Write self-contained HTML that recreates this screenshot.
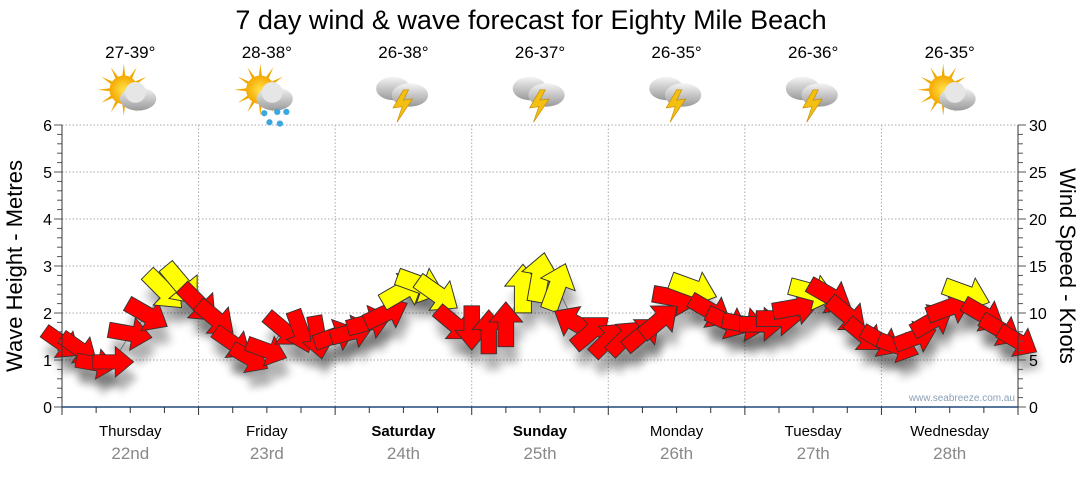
<!DOCTYPE html>
<html><head><meta charset="utf-8"><style>
body{margin:0;background:#fff;width:1080px;height:475px;overflow:hidden;font-family:"Liberation Sans",sans-serif}
</style></head><body>
<svg id="c" width="1080" height="475" viewBox="0 0 1080 475">
<defs>
<filter id="sh" x="-50%" y="-50%" width="200%" height="250%"><feGaussianBlur stdDeviation="4"/></filter>
<radialGradient id="sun" cx="50%" cy="50%" r="50%"><stop offset="0" stop-color="#ffe24a"/><stop offset="1" stop-color="#f5a800"/></radialGradient>
<linearGradient id="cl" x1="0" y1="0" x2="0" y2="1"><stop offset="0" stop-color="#f4f4f4"/><stop offset="1" stop-color="#9a9a9a"/></linearGradient>
</defs>
<text x="531" y="29" font-size="27" text-anchor="middle" fill="#000">7 day wind &amp; wave forecast for Eighty Mile Beach</text>
<g id="grid"></g>
<g id="shadows"></g>
<g id="arrows"></g>
<g id="axes"></g>
<g id="topg"></g>
<text x="1015" y="401" font-size="10" text-anchor="end" fill="#8aa0b8">www.seabreeze.com.au</text>
<text transform="translate(22,266) rotate(-90)" font-size="22" text-anchor="middle">Wave Height - Metres</text>
<text transform="translate(1060,266) rotate(90)" font-size="22" text-anchor="middle">Wind Speed - Knots</text>
</svg>
<script>
const days=["Thursday","Friday","Saturday","Sunday","Monday","Tuesday","Wednesday"];
const dates=["22nd","23rd","24th","25th","26th","27th","28th"];
const temps=["27-39°","28-38°","26-38°","26-37°","26-35°","26-36°","26-35°"];
const icons=["suncloud","sunrain","storm","storm","storm","storm","suncloud"];
const waveTicks=[0,1,2,3,4,5,6];
const windTicks=[0,5,10,15,20,25,30];
const hours=[0,3,6,9,12,15,18,21,24,27,30,33,36,39,42,45,48,51,54,57,60,63,66,69,72,75,78,81,84,87,90,93,96,99,102,105,108,111,114,117,120,123,126,129,132,135,138,141,144,147,150,153,156,159,162,165,168];
const speeds=[6.8,6.2,4.6,4.8,7.8,9.8,12.4,13.0,11.0,9.4,6.8,5.2,6.0,8.2,8.0,7.4,7.6,8.0,9.0,10.0,12.4,13.0,12.0,8.8,8.4,8.0,8.8,12.6,13.8,12.8,9.0,8.0,7.2,7.4,7.8,9.2,11.6,12.6,10.2,9.0,8.8,8.8,9.4,10.6,12.2,11.8,9.8,7.6,7.0,6.4,7.4,9.2,10.6,12.0,9.8,8.2,7.0];
const dirs=[35,35,10,0,10,30,45,50,45,40,35,30,20,40,70,80,-20,-15,-15,-25,-30,20,35,40,90,-90,-90,-90,-80,-70,-150,-40,-45,-45,-40,-40,10,20,30,25,10,0,0,-10,15,30,40,40,30,20,-20,-30,-20,20,30,30,30];

const X0=62,X1=1018,Y0=407,Y1=125;
const xH=h=>X0+(h/168)*(X1-X0);
const yW=m=>Y0-(m/6)*(Y0-Y1);
const yK=k=>Y0-(k/30)*(Y0-Y1);
const NS="http://www.w3.org/2000/svg";
function el(t,a,p){const e=document.createElementNS(NS,t);for(const k in a)e.setAttribute(k,a[k]);p.appendChild(e);return e;}
const grid=document.getElementById('grid'),axes=document.getElementById('axes'),topG=document.getElementById('topg');
waveTicks.forEach(v=>{
  if(v>0){const g=el('line',{x1:X0,x2:X1,y1:yW(v),y2:yW(v),stroke:'#aaa','stroke-dasharray':'1.5,2'},grid);
  
  }
  const t=el('text',{x:X0-10,y:yW(v)+6,'font-size':16,'text-anchor':'end'},axes);t.textContent=v;
  
  
});
windTicks.forEach(v=>{
  const t=el('text',{x:X1+11,y:yK(v)+6,'font-size':16},axes);t.textContent=v;
  
  
});
for(let i=0;i<=30;i++){const y=Y0-i*(Y0-Y1)/30,l=(i%5==0)?8:5;
  el('line',{x1:X0-l,x2:X0,y1:y,y2:y,stroke:'#555'},axes);
  el('line',{x1:X1,x2:X1+l,y1:y,y2:y,stroke:'#555'},axes);}
el('line',{x1:X0,x2:X0,y1:Y1,y2:Y0,stroke:'#333'},axes);
el('line',{x1:X1,x2:X1,y1:Y1,y2:Y0,stroke:'#333'},axes);
el('line',{x1:X0,x2:X1,y1:Y0,y2:Y0,stroke:'#1e4a7a','stroke-width':1.5},axes);
for(let h=0;h<=168;h+=6){const x=xH(h);
  el('line',{x1:x,x2:x,y1:Y0,y2:Y0+(h%24==0?8:6),stroke:'#333'},axes);
  if(h%24==0&&h>0&&h<168){const g=el('line',{x1:x,x2:x,y1:Y1,y2:Y0,stroke:'#aaa','stroke-dasharray':'1.5,2'},grid);
  
  }}
function icon(kind,cx,cy,p){
  const s=el('g',{transform:`translate(${cx},${cy}) scale(1.3) translate(${-cx},${-cy})`},p);
  if(kind!='storm'){
    for(let i=0;i<12;i++){const a=i*Math.PI/6;el('polygon',{points:`${cx-5+Math.cos(a-0.15)*9},${cy-4+Math.sin(a-0.15)*9} ${cx-5+Math.cos(a)*20},${cy-4+Math.sin(a)*20} ${cx-5+Math.cos(a+0.15)*9},${cy-4+Math.sin(a+0.15)*9}`,fill:'#f0a800'},s);}
    el('circle',{cx:cx-5,cy:cy-4,r:11,fill:'url(#sun)'},s);
    el('ellipse',{cx:cx+6,cy:cy+3,rx:14,ry:9,fill:'url(#cl)'},s);
    el('circle',{cx:cx+4,cy:cy-2,r:8,fill:'#e6e6e6'},s);
    if(kind=='sunrain'){[[-2,14],[8,13],[15,13],[2,21],[10,22]].forEach(d=>el('circle',{cx:cx+d[0],cy:cy+d[1],r:2.4,fill:'#3aa8e0'},s));}
  }else{
    el('ellipse',{cx:cx-8,cy:cy-5,rx:13,ry:9,fill:'url(#cl)'},s);
    el('ellipse',{cx:cx+5,cy:cy,rx:14,ry:9,fill:'url(#cl)'},s);
    el('polygon',{points:`${cx},${cy-4} ${cx-8},${cy+10} ${cx-1},${cy+9} ${cx-5},${cy+21} ${cx+7},${cy+3} ${cx},${cy+4} ${cx+4},${cy-4}`,fill:'#f3c012',stroke:'#c98a00','stroke-width':0.5},s);
  }
}
days.forEach((d,i)=>{
  const cx=xH(i*24+12);
  const t=el('text',{x:cx,y:436,'font-size':15,'text-anchor':'middle','font-weight':(i==2||i==3)?'bold':'normal'},axes);t.textContent=d;
  
  
  const t2=el('text',{x:cx,y:459,'font-size':17,'text-anchor':'middle',fill:'#888'},axes);t2.textContent=dates[i];
  
  
  const t3=el('text',{x:cx,y:58,'font-size':17,'text-anchor':'middle'},topG);t3.textContent=temps[i];
  
  
  const g=el('g',{},topG);
  
  
  icon(icons[i],cx,95,g);
});
const ar=document.getElementById('arrows'),sh=document.getElementById('shadows');
el('polyline',{points:hours.map((h,i)=>xH(h)+','+yK(speeds[i])).join(' '),fill:'none',stroke:'#999','stroke-width':1},sh);
hours.forEach((h,i)=>{
  const x=xH(h),y=yK(speeds[i]),s=0.9+speeds[i]/40;
  const pts="-20,-7 2,-7 2,-15 20,0 2,15 2,7 -20,7";
  el('polygon',{points:pts,fill:'#000',opacity:0.3,filter:'url(#sh)',transform:`translate(${x+4},${y+16}) rotate(${dirs[i]}) scale(${s})`},sh);
  const a=el('polygon',{points:pts,fill:speeds[i]>=12?'#ffff00':'#ff0000',stroke:'#333','stroke-width':0.8,transform:`translate(${x},${y}) rotate(${dirs[i]}) scale(${s})`},ar);
  
  
});
</script>
</body></html>
